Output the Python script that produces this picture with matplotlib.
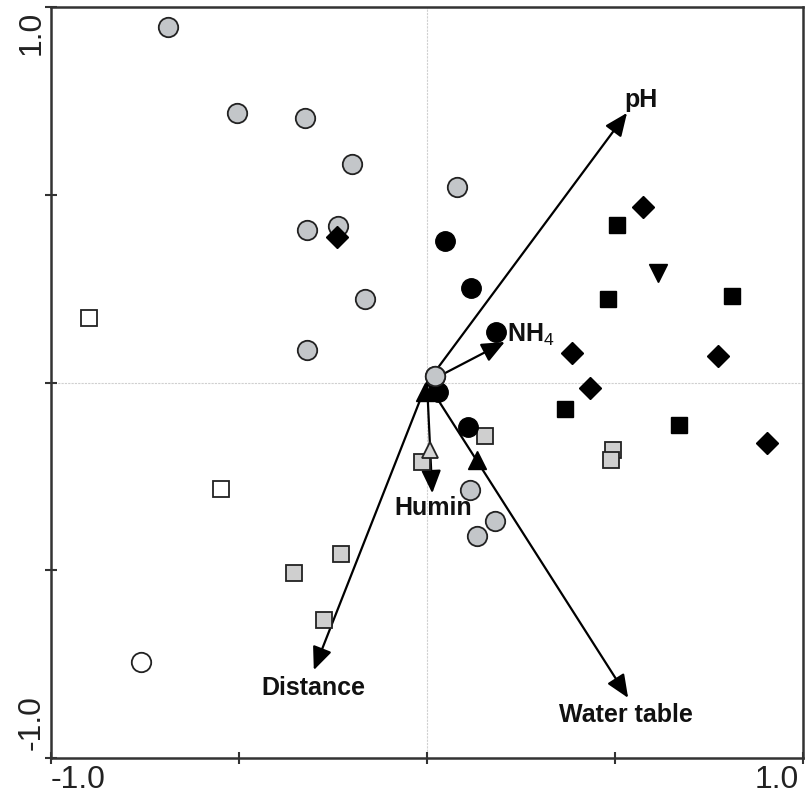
import numpy as np
import matplotlib.pyplot as plt

plt.rcParams['font.family'] = ['Liberation Sans', 'DejaVu Sans']
plt.rcParams['mathtext.fontset'] = 'custom'
plt.rcParams['mathtext.rm'] = 'Liberation Sans'
plt.rcParams['mathtext.it'] = 'Liberation Sans:italic'
plt.rcParams['mathtext.bf'] = 'Liberation Sans:bold'

# sample scores, by symbol group
grey_circ_x = [-0.689, -0.505, -0.324, -0.199, 0.080, -0.319, -0.237, -0.165, -0.319, 0.021, 0.114, 0.181, 0.133]
grey_circ_y = [0.947, 0.718, 0.704, 0.582, 0.521, 0.406, 0.417, 0.222, 0.087, 0.017, -0.286, -0.369, -0.409]

open_circ_x = [-0.761]
open_circ_y = [-0.744]

black_circ_x = [0.048, 0.117, 0.184, 0.029, 0.109]
black_circ_y = [0.377, 0.252, 0.134, -0.025, -0.118]

black_diam_x = [-0.239, 0.574, 0.386, 0.434, 0.774, 0.904]
black_diam_y = [0.387, 0.467, 0.079, -0.015, 0.071, -0.161]

black_sq_x = [0.505, 0.481, 0.811, 0.367, 0.670]
black_sq_y = [0.419, 0.222, 0.230, -0.071, -0.113]

black_tridown_x = [0.614]
black_tridown_y = [0.292]

black_triup_x = [-0.005, 0.133]
black_triup_y = [-0.025, -0.206]

grey_sq_x = [0.154, -0.013, 0.495, 0.489, -0.229, -0.354, -0.274]
grey_sq_y = [-0.142, -0.212, -0.180, -0.207, -0.457, -0.507, -0.632]

grey_tri_x = [0.008]
grey_tri_y = [-0.180]

open_sq_x = [-0.899, -0.548]
open_sq_y = [0.172, -0.284]

# environmental vectors
env_names = ['pH', 'NH$_4$', 'Humin', 'Distance', 'Water table']
env_x = [0.532, 0.207, 0.014, -0.301, 0.535]
env_y = [0.718, 0.108, -0.295, -0.766, -0.840]

fig = plt.figure(figsize=(8.07, 8.08), dpi=100)
ax = fig.add_axes([0.0632, 0.0619, 0.9318, 0.9294])

ax.axhline(0, color='#d0d0d0', lw=0.8, ls=(0, (2, 1)), zorder=0)
ax.axvline(0, color='#d0d0d0', lw=0.8, ls=(0, (2, 1)), zorder=0)

for x, y in zip(env_x, env_y):
    ax.annotate('', xy=(x, y), xytext=(0, 0),
                arrowprops=dict(arrowstyle='-|>,head_length=0.7,head_width=0.3',
                                color='black', lw=1.6, mutation_scale=20,
                                shrinkA=0, shrinkB=0), zorder=2)

lbl = dict(fontsize=18, fontweight='bold', color='#111111')
ax.text(0.525, 0.752, env_names[0], ha='left', va='center', **lbl)
ax.text(0.213, 0.128, env_names[1], ha='left', va='center', **lbl)
ax.text(0.016, -0.334, env_names[2], ha='center', va='center', **lbl)
ax.text(-0.303, -0.813, env_names[3], ha='center', va='center', **lbl)
ax.text(0.529, -0.886, env_names[4], ha='center', va='center', **lbl)

ek = dict(markeredgecolor='#222222', markeredgewidth=1.3, linestyle='none', zorder=3)
ax.plot(grey_circ_x, grey_circ_y, 'o', ms=14, markerfacecolor='#c3c6c9', **ek)
ax.plot(open_circ_x, open_circ_y, 'o', ms=14, markerfacecolor='white', **ek)
ax.plot(grey_sq_x, grey_sq_y, 's', ms=11, markerfacecolor='#cfcfcf', **ek)
ax.plot(open_sq_x, open_sq_y, 's', ms=11, markerfacecolor='white', **ek)
ax.plot(grey_tri_x, grey_tri_y, '^', ms=12, markerfacecolor='#d5d5d5', **ek)
ax.plot(black_circ_x, black_circ_y, 'o', ms=14, color='black', linestyle='none', zorder=3)
ax.plot(black_diam_x, black_diam_y, 'D', ms=11, color='black', linestyle='none', zorder=3)
ax.plot(black_sq_x, black_sq_y, 's', ms=11, color='black', linestyle='none', zorder=3)
ax.plot(black_tridown_x, black_tridown_y, 'v', ms=13, color='black', linestyle='none', zorder=3)
ax.plot(black_triup_x, black_triup_y, '^', ms=13, color='black', linestyle='none', zorder=3)
# sample plotted at the origin sits on top
ax.plot(grey_circ_x[9], grey_circ_y[9], 'o', ms=14, markerfacecolor='#c3c6c9', **dict(ek, zorder=4))

ax.set_xlim(-1.0, 1.0)
ax.set_ylim(-1.0, 1.0)
ticks = [-1.0, -0.5, 0.0, 0.5, 1.0]
ax.set_xticks(ticks)
ax.set_yticks(ticks)
ax.set_xticklabels([])
ax.set_yticklabels([])
ax.tick_params(direction='inout', length=8, width=1.5, color='#333333')
for s in ax.spines.values():
    s.set_linewidth(1.8)
    s.set_color('#333333')

tk = dict(fontsize=23, color='#222222', transform=ax.transAxes)
ax.text(0.0, -0.009, '-1.0', ha='left', va='top', **tk)
ax.text(0.995, -0.009, '1.0', ha='right', va='top', **tk)
ax.text(-0.006, 0.995, '1.0', ha='right', va='top', rotation=90, **tk)
ax.text(-0.006, 0.01, '-1.0', ha='right', va='bottom', rotation=90, **tk)

fig.savefig('out.png', dpi=100)
